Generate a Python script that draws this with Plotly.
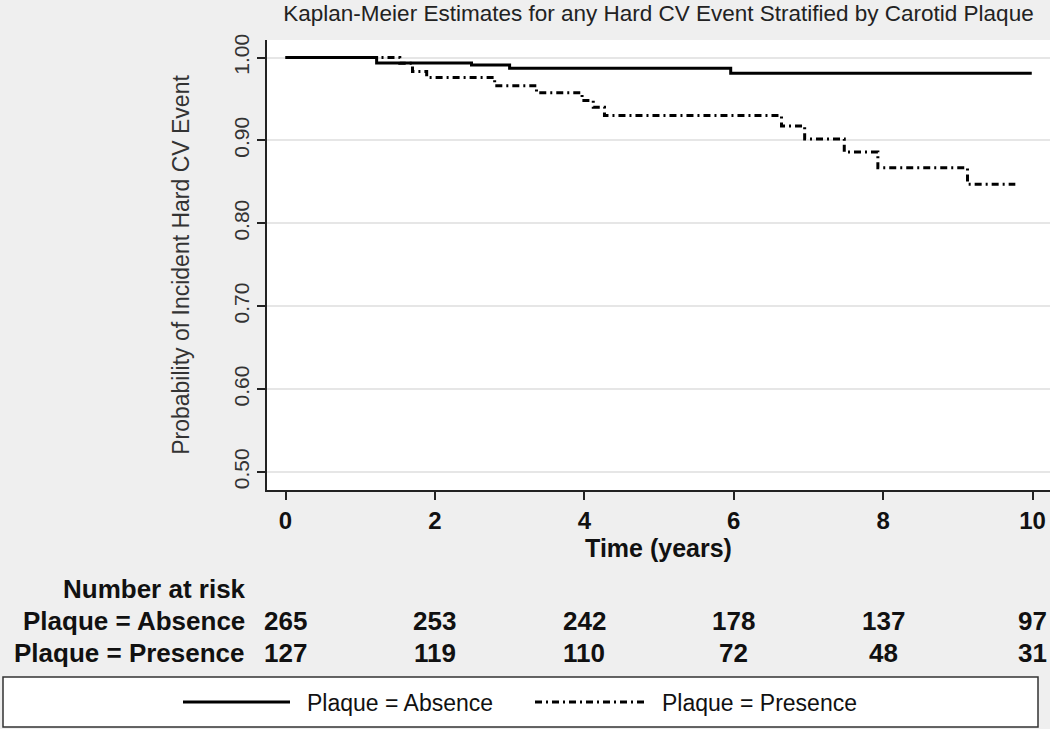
import plotly.graph_objects as go

# ---------------- data ----------------
absence_time = [0, 1.22, 2.49, 3.00, 5.96, 9.99]
absence_surv = [1.000, 0.9934, 0.991, 0.987, 0.981, 0.981]

presence_time = [0, 1.53, 1.70, 1.89, 2.80, 3.36, 3.97, 4.12, 4.27, 6.64, 6.95, 7.48, 7.93, 9.13, 9.77]
presence_surv = [1.000, 0.993, 0.983, 0.976, 0.966, 0.9575, 0.948, 0.940, 0.930, 0.9174, 0.9017, 0.886, 0.867, 0.847, 0.847]

risk_times = [0, 2, 4, 6, 8, 10]
risk_absence = [265, 253, 242, 178, 137, 97]
risk_presence = [127, 119, 110, 72, 48, 31]

y_ticks = [0.50, 0.60, 0.70, 0.80, 0.90, 1.00]
y_ticktext = ["0.50", "0.60", "0.70", "0.80", "0.90", "1.00"]
x_ticks = [0, 2, 4, 6, 8, 10]

title_text = "Kaplan-Meier Estimates for any Hard CV Event Stratified by Carotid Plaque"
ytitle_text = "Probability of Incident Hard CV Event"
xtitle_text = "Time (years)"
risk_header = "Number at risk"
label_absence = "Plaque = Absence"
label_presence = "Plaque = Presence"

# ---------------- layout geometry ----------------
W, H = 1050, 729
PL, PR, PT, PB = 267, 1050, 40, 490  # plot area in pixels
FONT = "Arial, 'Liberation Sans', Helvetica, sans-serif"
DASHDOT = "7px,4px,2px,4px"


def px2x(px):
    return (px - PL) / (PR - PL)


def py2y(py):
    return (PB - py) / (PB - PT)


fig = go.Figure()
fig.add_trace(go.Scatter(x=absence_time, y=absence_surv, mode="lines", line_shape="hv",
                         line=dict(color="#000000", width=3), name=label_absence,
                         showlegend=False))
fig.add_trace(go.Scatter(x=presence_time, y=presence_surv, mode="lines", line_shape="hv",
                         line=dict(color="#000000", width=3, dash=DASHDOT), name=label_presence,
                         showlegend=False))

RISK_FONT = dict(family=FONT, size=26, color="#111111", weight="bold")
annotations = []
# risk table
annotations.append(dict(text=risk_header, xref="paper", yref="paper", x=px2x(248), y=py2y(589),
                        xanchor="right", yanchor="middle", showarrow=False, font=RISK_FONT))
for lab, vals, py in [(label_absence, risk_absence, 621), (label_presence, risk_presence, 653)]:
    annotations.append(dict(text=lab, xref="paper", yref="paper", x=px2x(247), y=py2y(py),
                            xanchor="right", yanchor="middle", showarrow=False, font=RISK_FONT))
    for t, v in zip(risk_times, vals):
        annotations.append(dict(text=str(v), xref="x", yref="paper", x=t, y=py2y(py),
                                xanchor="center", yanchor="middle", showarrow=False,
                                font=RISK_FONT))

# legend (manual, full-width box)
shapes = [dict(type="rect", xref="paper", yref="paper", x0=px2x(3), x1=px2x(1038),
               y0=py2y(677), y1=py2y(727), line=dict(color="#333333", width=1.5),
               fillcolor="white", layer="above"),
          dict(type="line", xref="paper", yref="paper", x0=px2x(183), x1=px2x(290),
               y0=py2y(702), y1=py2y(702), line=dict(color="#000000", width=3)),
          dict(type="line", xref="paper", yref="paper", x0=px2x(535), x1=px2x(647),
               y0=py2y(702), y1=py2y(702), line=dict(color="#000000", width=3, dash=DASHDOT))]
annotations.append(dict(text=label_absence, xref="paper", yref="paper", x=px2x(305), y=py2y(703),
                        xanchor="left", yanchor="middle", showarrow=False,
                        font=dict(family=FONT, size=23, color="#111111")))
annotations.append(dict(text=label_presence, xref="paper", yref="paper", x=px2x(660), y=py2y(703),
                        xanchor="left", yanchor="middle", showarrow=False,
                        font=dict(family=FONT, size=23, color="#111111")))

fig.update_layout(
    width=W, height=H,
    margin=dict(l=PL, r=W - PR, t=PT, b=H - PB, pad=0),
    paper_bgcolor="#efefef", plot_bgcolor="#ffffff",
    showlegend=False,
    title=dict(text=title_text, x=0.5, xref="paper", xanchor="center",
               y=1 - 13 / H, yref="container", yanchor="middle",
               font=dict(family=FONT, size=22.5, color="#222222")),
    annotations=annotations, shapes=shapes,
    xaxis=dict(range=[(PL - 285.5) / 74.7, (PR - 285.5) / 74.7], tickvals=x_ticks,
               showline=True, linecolor="#222222", linewidth=2, mirror=False,
               ticks="outside", ticklen=8, tickwidth=2, tickcolor="#222222",
               showgrid=False, zeroline=False,
               tickfont=dict(family=FONT, size=24, color="#111111", weight="bold"),
               title=dict(text=xtitle_text, standoff=2,
                          font=dict(family=FONT, size=25, color="#111111", weight="bold"))),
    yaxis=dict(range=[0.5 - 18 / 829, 1 + 17.5 / 829], tickvals=y_ticks, ticktext=y_ticktext,
               tickangle=-90,
               showline=True, linecolor="#222222", linewidth=2, mirror=False,
               ticks="outside", ticklen=8, tickwidth=2, tickcolor="#222222",
               showgrid=True, gridcolor="#e6e6e6", gridwidth=2, zeroline=False,
               tickfont=dict(family=FONT, size=21, color="#333333"),
               title=dict(text=ytitle_text, standoff=34,
                          font=dict(family=FONT, size=23, color="#333333"))),
)

fig.write_html("out.html", config={"displayModeBar": False},
               post_script="document.body.style.margin='0px';document.body.style.overflow='hidden';")
